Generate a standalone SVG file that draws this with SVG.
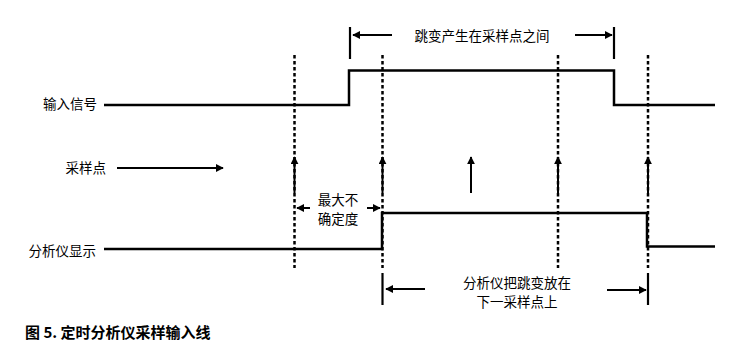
<svg xmlns="http://www.w3.org/2000/svg" width="734" height="348" viewBox="0 0 734 348">
<style>
text{font-family:"Noto Sans CJK SC","Noto Sans",sans-serif;font-size:13.5px;fill:#000}
.cap{font-size:15px;font-weight:bold}
.sig{fill:none;stroke:#000;stroke-width:2.5}
.dot{stroke:#000;stroke-width:2.5;stroke-dasharray:3.5 2.5}
.arr{stroke:#000;stroke-width:2;marker-end:url(#ah)}
.brk{stroke:#000;stroke-width:2.2}
</style>
<defs>
<marker id="ah" viewBox="0 0 10 10" refX="9" refY="5" markerWidth="8" markerHeight="8" markerUnits="userSpaceOnUse" orient="auto">
<path d="M0,0 L10,5 L0,10 Z" fill="#000"/>
</marker>
</defs>
<g id="labels">
<text x="97" y="109" text-anchor="end">输入信号</text>
<text x="106" y="173" text-anchor="end">采样点</text>
<text x="96" y="256" text-anchor="end">分析仪显示</text>
<text x="482" y="41" text-anchor="middle">跳变产生在采样点之间</text>
<text x="338" y="205" text-anchor="middle">最大不</text>
<text x="338" y="224" text-anchor="middle">确定度</text>
<text x="517" y="288" text-anchor="middle">分析仪把跳变放在</text>
<text x="517" y="307" text-anchor="middle">下一采样点上</text>
<text class="cap" x="25" y="338">图 5. 定时分析仪采样输入线</text>
</g>
<g id="input-signal">
<path class="sig" d="M104,105 H349 V70.5 H614 V105 H715"/>
</g>
<g id="display-signal">
<path class="sig" d="M104,249 H382 V213 H647 V246.5 H715"/>
</g>
<g id="connectors">
<line class="dot" x1="294.5" y1="55" x2="294.5" y2="268"/>
<line class="dot" x1="382.5" y1="55" x2="382.5" y2="268"/>
<line class="dot" x1="558" y1="55" x2="558" y2="268"/>
<line class="dot" x1="648" y1="55" x2="648" y2="268"/>
<line class="arr" x1="117" y1="168" x2="223" y2="168"/>
<line class="arr" x1="294.5" y1="193" x2="294.5" y2="157"/>
<line class="arr" x1="382.5" y1="193" x2="382.5" y2="157"/>
<line class="arr" x1="471" y1="193" x2="471" y2="157"/>
<line class="arr" x1="558" y1="193" x2="558" y2="157"/>
<line class="arr" x1="648" y1="193" x2="648" y2="157"/>
<line class="brk" x1="350" y1="27" x2="350" y2="59"/>
<line class="brk" x1="614" y1="27" x2="614" y2="59"/>
<line class="arr" x1="392" y1="35" x2="353" y2="35"/>
<line class="arr" x1="575" y1="35" x2="612" y2="35"/>
<line class="arr" x1="310" y1="208" x2="297" y2="208"/>
<line class="arr" x1="367" y1="208" x2="380" y2="208"/>
<line class="brk" x1="382.5" y1="273" x2="382.5" y2="305"/>
<line class="brk" x1="648" y1="273" x2="648" y2="305"/>
<line class="arr" x1="425" y1="289" x2="386" y2="289"/>
<line class="arr" x1="607" y1="290" x2="646" y2="290"/>
</g>
</svg>
